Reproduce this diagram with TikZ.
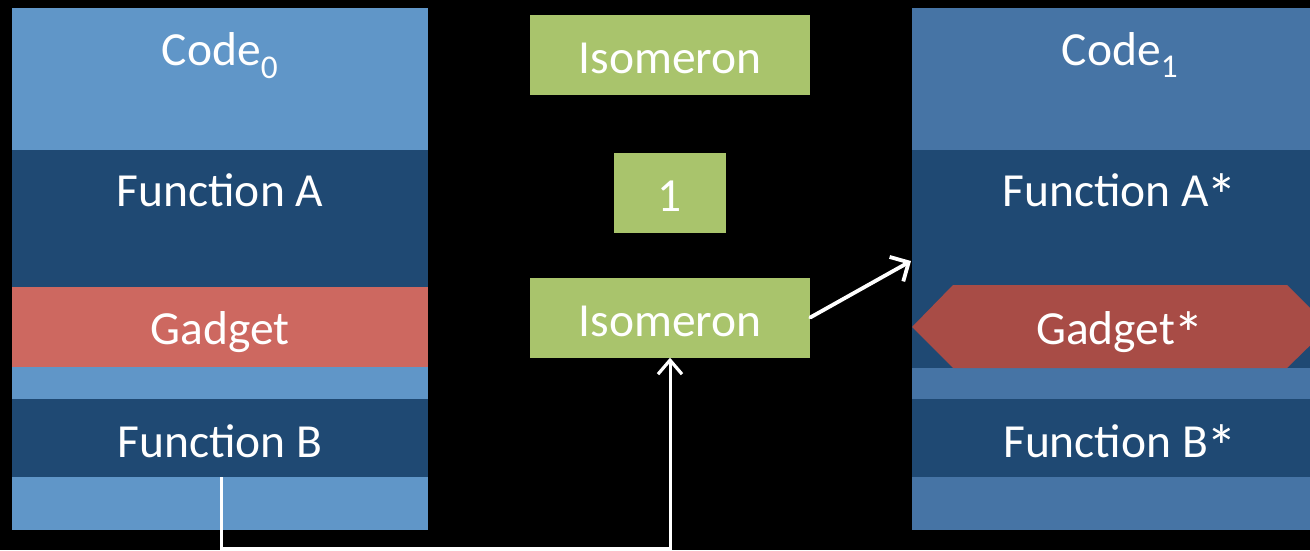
\documentclass[tikz,border=0pt]{standalone}
\usepackage{fontspec}
\setmainfont{Carlito}
\usetikzlibrary{arrows.meta}
\definecolor{lblue}{HTML}{6096C8}
\definecolor{rblue}{HTML}{4674A5}
\definecolor{dblue}{HTML}{1F4973}
\definecolor{lred}{HTML}{CD6860}
\definecolor{rred}{HTML}{A84C46}
\definecolor{grn}{HTML}{A9C46C}
\newcommand{\bigast}{\kern-2pt\raisebox{-11pt}{\scalebox{1.3}{*}}}
\tikzset{
  lbl/.style={text=white, font=\fontsize{47.5}{54}\selectfont, anchor=base, inner sep=0pt},
  gbox/.style={fill=grn, text=white, font=\fontsize{47.5}{54}\selectfont, inner sep=0pt, minimum height=80pt, text height=37pt, text depth=0pt},
  conn/.style={draw=white, line width=3.8pt, line cap=round, -{Straight Barb[length=14pt,width=28pt,line width=3.8pt]}},
  conn2/.style={draw=white, line width=3pt, -{Straight Barb[length=14pt,width=24pt,line width=3.2pt]}},
}
\begin{document}
\begin{tikzpicture}[x=1pt,y=-1pt]
\useasboundingbox (0,0) rectangle (1310,550);
\fill[black] (0,0) rectangle (1310,550);
\clip (0,0) rectangle (1310,550);
% left column
\fill[lblue] (12,8) rectangle (428,150);
\fill[dblue] (12,150) rectangle (428,287);
\fill[lred] (12,287) rectangle (428,367);
\fill[lblue] (12,367) rectangle (428,399);
\fill[dblue] (12,399) rectangle (428,477);
\fill[lblue] (12,477) rectangle (428,530);
\node[lbl] (c0) at (220,65) {Code\textsubscript{0}};
\node[lbl] (fa) at (220,206) {Function A};
\node[lbl] (ga) at (220,344) {Gadget};
\node[lbl] (fb) at (220,457) {Function B};
% right column
\fill[rblue] (912,8) rectangle (1328,150);
\fill[dblue] (912,150) rectangle (1328,368);
\fill[rblue] (912,368) rectangle (1328,399);
\fill[dblue] (912,399) rectangle (1328,477);
\fill[rblue] (912,477) rectangle (1328,530);
\fill[rred] (912,327) -- (953,285) -- (1287,285) -- (1329,327) -- (1287,368) -- (953,368) -- cycle;
\node[lbl] (c1) at (1120,65) {Code\textsubscript{1}};
\node[lbl] (fas) at (1120,206) {Function A\bigast};
\node[lbl] (gas) at (1120,344) {Gadget\bigast};
\node[lbl] (fbs) at (1120,457) {Function B\bigast};
% middle
\node[gbox, minimum width=280pt] (iso1) at (670,55) {Isomeron};
\node[gbox, minimum width=112pt] (one) at (670,192.5) {1};
\node[gbox, minimum width=280pt] (iso2) at (670,317.5) {Isomeron};
% connectors
\coordinate (fbout) at (221,477);
\coordinate (code1in) at (911,261);
\draw[conn] (iso2.east) -- (code1in);
\draw[conn2] (fbout) -- (221,548) -| (iso2.south);
\end{tikzpicture}
\end{document}
